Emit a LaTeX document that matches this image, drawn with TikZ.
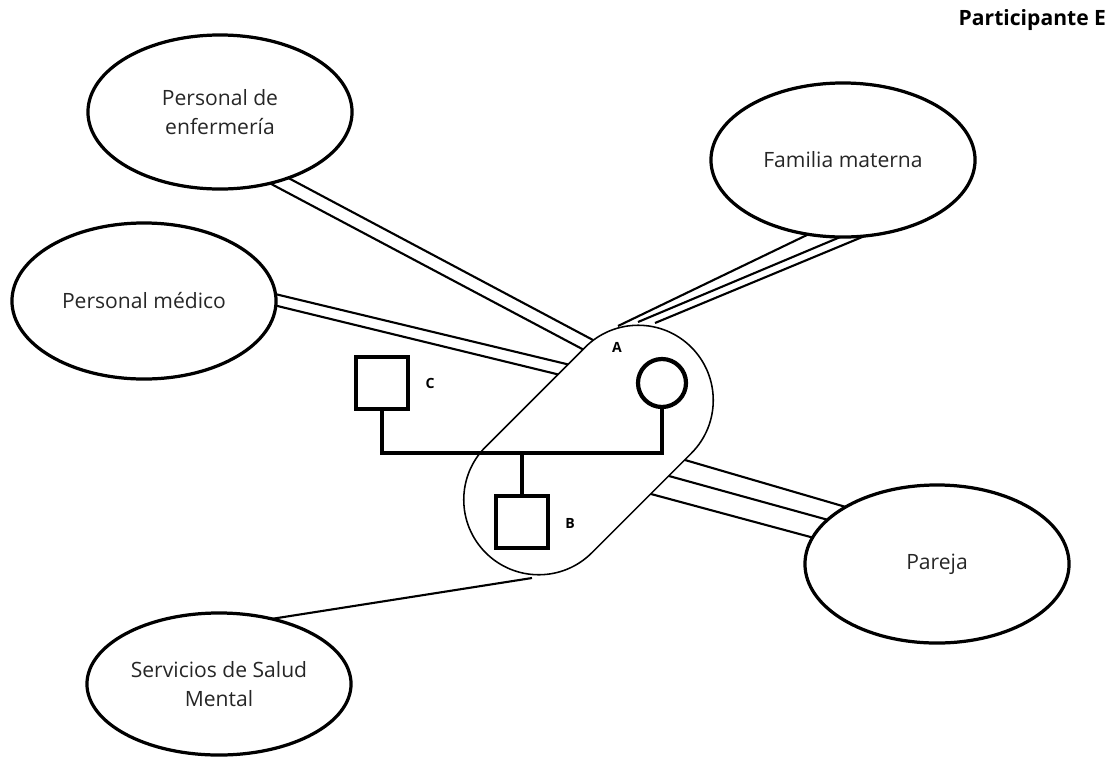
\documentclass[tikz,border=0pt]{standalone}
\usepackage{fontspec}
\setmainfont{Open Sans}
\usetikzlibrary{shapes.geometric,shapes.misc}

\begin{document}
\begin{tikzpicture}[x=0.025cm, y=0.025cm,
  red/.style={ellipse, draw, line width=2.3pt, minimum width=6.6cm,
    minimum height=3.85cm, inner sep=0pt, outer sep=0pt, align=center,
    text=black!85, font=\fontsize{15}{21}\selectfont},
  lazo/.style={line width=1.5pt},
  gen/.style={line width=2.6pt},
  etq/.style={font=\fontsize{10}{12}\selectfont\bfseries}]
  \useasboundingbox (0,0) rectangle (1119,-758);

  \node[font=\fontsize{15}{18}\selectfont\bfseries, anchor=east] (tit) at (1111,-20) {Participante E};

  % relaciones
  \node[red] (enf) at (220,-112) {Personal de\\enfermería};
  \node[red, minimum height=3.9cm] (med) at (144,-301) {Personal médico};
  \node[red] (fam) at (843,-160) {Familia materna};
  \node[red, minimum height=3.95cm] (par) at (937,-564) {Pareja};
  \node[red, minimum height=3.55cm] (sal) at (219,-684) {Servicios de Salud\\Mental};

  % grupo familiar
  \node[rounded rectangle, draw, line width=1.1pt, minimum width=7.5cm,
    minimum height=3.75cm, rotate=45] (grp) at (588.5,-450) {};

  \node[circle, draw, line width=3pt, minimum size=1.2cm, inner sep=0pt] (A) at (662,-383) {};
  \node[rectangle, draw, line width=3pt, minimum size=1.3cm, inner sep=0pt] (C) at (382,-383) {};
  \node[rectangle, draw, line width=3pt, minimum size=1.3cm, inner sep=0pt] (B) at (522,-522) {};
  \node[etq] (lA) at (617,-347) {A};
  \node[etq] (lC) at (430,-383) {C};
  \node[etq] (lB) at (570,-523) {B};

  \coordinate (m) at (522,-453);
  \draw[gen] (C.south) |- (m) -| (A.south);
  \draw[gen] (m) -- (B.north);

  % extremos sobre el grupo
  \coordinate (g1) at (593,-340);
  \coordinate (g2) at (583,-349.4);
  \coordinate (g3) at (568,-364.4);
  \coordinate (g4) at (558,-374.4);
  \coordinate (g5) at (618,-326);
  \coordinate (g6) at (638,-322);
  \coordinate (g7) at (655,-323);
  \coordinate (g8) at (685,-460);
  \coordinate (g9) at (669,-476);
  \coordinate (g10) at (651,-494);
  \coordinate (g11) at (532,-578);

  \draw[lazo] (enf.-44) -- (g1);
  \draw[lazo] (enf.-55) -- (g2);

  \draw[lazo] (med.3) -- (g3);
  \draw[lazo] (med.-2) -- (g4);

  \draw[lazo] (fam.-115) -- (g5);
  \draw[lazo] (fam.-92) -- (g6);
  \draw[lazo] (fam.-74) -- (g7);

  \draw[lazo] (par.148) -- (g8);
  \draw[lazo] (par.158) -- (g9);
  \draw[lazo] (par.168) -- (g10);

  \draw[lazo] (sal.51) -- (g11);
\end{tikzpicture}
\end{document}
